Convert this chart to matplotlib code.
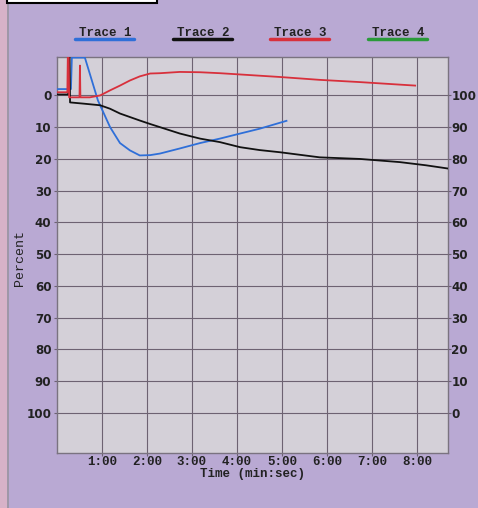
import matplotlib
matplotlib.use("Agg")
import matplotlib.pyplot as plt
from matplotlib.patches import Rectangle
from matplotlib.lines import Line2D

# ---- data (time in minutes, value in left-axis percent; axis inverted) ----
t1 = [0, 0.31, 0.33, 0.62, 0.91, 1.18, 1.40, 1.62, 1.84, 2.07, 2.29, 2.73, 3.18, 3.62, 4.07, 4.50, 5.10]
v1 = [-2.0, -2.0, -11.9, -11.9, 1.6, 10.0, 15.0, 17.3, 18.9, 18.8, 18.3, 16.7, 15.0, 13.6, 12.0, 10.5, 8.0]

t2 = [0, 0.25, 0.26, 0.28, 0.29, 0.60, 0.96, 1.18, 1.40, 1.62, 1.84, 2.07, 2.29, 2.73, 3.18, 3.62, 4.07,
      4.50, 4.96, 5.84, 6.73, 7.62, 8.20, 8.68]
v2 = [-0.3, -0.3, -11.9, -11.9, 2.2, 2.6, 3.1, 4.2, 5.7, 6.8, 7.9, 9.0, 10.0, 12.0, 13.6, 14.7, 16.3,
      17.2, 17.9, 19.5, 20.0, 21.0, 22.0, 23.0]

t3 = [0, 0.23, 0.24, 0.26, 0.27, 0.50, 0.51, 0.52, 0.73, 0.96, 1.18, 1.40, 1.62, 1.84, 2.07, 2.29, 2.73,
      3.18, 3.62, 4.07, 4.96, 5.84, 6.73, 7.62, 7.96]
v3 = [-1.0, -1.0, -11.9, -11.9, 0.6, 0.6, -9.4, 0.6, 0.6, 0.0, -1.6, -3.1, -4.7, -6.0, -6.9, -7.0, -7.4,
      -7.3, -7.0, -6.6, -5.8, -4.9, -4.2, -3.4, -3.1]

trace_names = ["Trace 1", "Trace 2", "Trace 3", "Trace 4"]
trace_colors = ["#2f6fd8", "#111111", "#d8303c", "#2a9a3a"]

xtick_pos = [1, 2, 3, 4, 5, 6, 7, 8]
xtick_labels = ["1:00", "2:00", "3:00", "4:00", "5:00", "6:00", "7:00", "8:00"]
ytick_left = [0, 10, 20, 30, 40, 50, 60, 70, 80, 90, 100]
ytick_right = [100, 90, 80, 70, 60, 50, 40, 30, 20, 10, 0]

FIG_BG = "#b9a9d3"
AX_BG = "#d4d0d8"
GRID = "#6d6272"

fig = plt.figure(figsize=(4.78, 5.08), dpi=100, facecolor=FIG_BG)

# scan artifacts: left pink strip and box at top
fig.patches.append(Rectangle((0, 0), 7 / 478, 1, transform=fig.transFigure,
                             facecolor="#d7b2c8", edgecolor="none", zorder=0))
fig.add_artist(Line2D([7.5 / 478, 7.5 / 478], [0, 1], transform=fig.transFigure,
                      color="#9a94a0", lw=1.2))
fig.patches.append(Rectangle((7 / 478, 1 - 3 / 508), 150 / 478, 10 / 508, transform=fig.transFigure,
                             facecolor="white", edgecolor="black", lw=1.5, zorder=3, clip_on=False))

ax = fig.add_axes([57 / 478, 55 / 508, 391 / 478, 396 / 508])
ax.set_facecolor(AX_BG)
ax.set_xlim(0, 8.69)
ax.set_ylim(112.6, -12.1)

for t, v, c in zip([t1, t2, t3], [v1, v2, v3], trace_colors[:3]):
    ax.plot(t, v, color=c, lw=1.3, zorder=3)

ax.set_xticks(xtick_pos)
ax.set_xticklabels(xtick_labels, fontfamily="Liberation Mono", fontweight="bold", fontsize=9, color="#222")
ax.set_yticks(ytick_left)
ax.set_yticklabels([str(v) for v in ytick_left], fontfamily="DejaVu Sans", fontweight="bold",
                   fontsize=8.6, color="#222")
ax.tick_params(axis="y", length=2, width=0.8, color=GRID, pad=2)
ax.tick_params(axis="x", length=2, width=0.8, color=GRID, pad=0.5)
ax.grid(True, color=GRID, lw=0.8)
for s in ax.spines.values():
    s.set_color("#7a7380")
    s.set_linewidth(1.0)

ax2 = ax.twinx()
ax2.set_ylim(100 - 112.6, 100 + 12.1)
ax2.set_yticks(ytick_right)
ax2.set_yticklabels([str(v) for v in ytick_right], fontfamily="DejaVu Sans", fontweight="bold",
                    fontsize=8.6, color="#222")
ax2.tick_params(axis="y", length=2, width=0.8, color=GRID, pad=0.5)
for s in ax2.spines.values():
    s.set_visible(False)

ax.set_xlabel("Time (min:sec)", fontfamily="Liberation Mono", fontweight="bold", fontsize=9,
              color="#222")
ax.xaxis.set_label_coords((252 - 57) / 391, -(472 - 451) / 396)
ax.xaxis.label.set_va("center")
ax.set_ylabel("Percent", fontfamily="Liberation Mono", fontsize=9.5, color="#222")
ax.yaxis.set_label_coords((20 - 57) / 391, (451 - 256) / 396)
ax.yaxis.label.set_va("center")

# legend row at top
leg_x = [105, 203, 300, 398]
for name, c, xc in zip(trace_names, trace_colors, leg_x):
    fig.text(xc / 478, 1 - 33 / 508, name, ha="center", va="center", fontfamily="Liberation Mono",
             fontweight="bold", fontsize=9, color="#222")
    fig.add_artist(Line2D([(xc - 30) / 478, (xc + 29) / 478], [1 - 38.5 / 508, 1 - 38.5 / 508],
                          transform=fig.transFigure, color=c, lw=2.5, solid_capstyle="round"))

fig.savefig("out.png", dpi=100, facecolor=FIG_BG)
